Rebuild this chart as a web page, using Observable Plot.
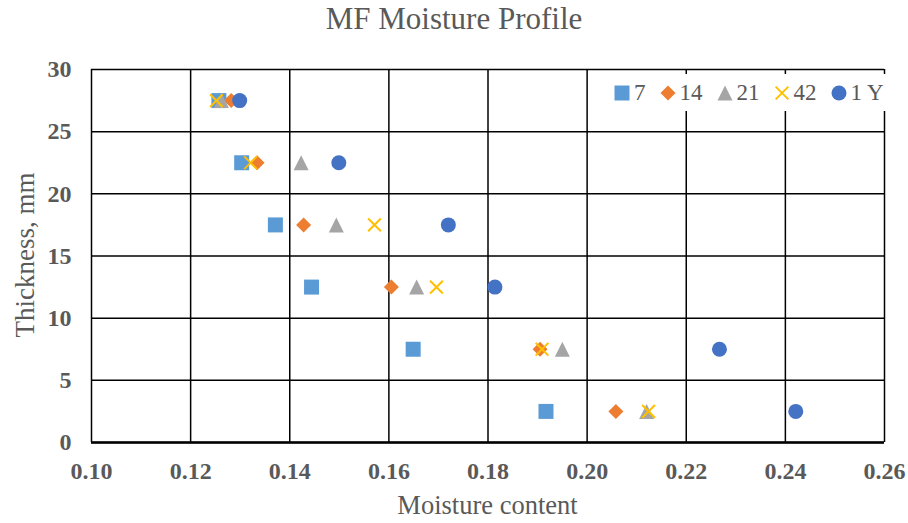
<!DOCTYPE html>
<html>
<head>
<meta charset="utf-8">
<script src="https://cdn.jsdelivr.net/npm/d3@7"></script>
<script src="https://cdn.jsdelivr.net/npm/@observablehq/plot@0.6"></script>
<style>
  html, body { margin: 0; padding: 0; background: #fff; }
  #chart { position: relative; width: 908px; height: 523px; overflow: hidden;
           font-family: "Liberation Serif", "Times New Roman", serif; color: #595959; }
  #title { position: absolute; left: 0; top: 0; width: 908px; text-align: center;
           font-size: 31px; line-height: 38px; }
  #plot { position: absolute; left: 0; top: 40px; }
  #xtitle { position: absolute; left: 91px; width: 793px; top: 490px; text-align: center;
            font-size: 26.5px; line-height: 30px; }
  #ytitle { position: absolute; left: 25px; top: 255px; transform: translate(-50%, -50%) rotate(-90deg);
            font-size: 27px; line-height: 30px; white-space: nowrap; }
  #legend { position: absolute; left: 605px; top: 74px; width: 284px; height: 37px; background: #fff;
            display: flex; align-items: center; padding-left: 9px; box-sizing: border-box;
            font-size: 23px; white-space: nowrap; }
  .item { display: flex; align-items: center; margin-right: 14px; flex: none; }
  .item svg { margin-right: 4px; }
</style>
</head>
<body>
<div id="chart">
  <div id="title">MF Moisture Profile</div>
  <div id="plot"></div>
  <div id="xtitle">Moisture content</div>
  <div id="ytitle">Thickness, mm</div>
  <div id="legend"></div>
</div>
<script>
// Sample ages (series) and sampling depths
const series = ["7", "14", "21", "42", "1 Y"];
const thickness = [27.5, 22.5, 17.5, 12.5, 7.5, 2.5];

// Moisture content at each depth, one array per age
const moisture7  = [0.1257, 0.1303, 0.1371, 0.1444, 0.1649, 0.1917];
const moisture14 = [0.1282, 0.1334, 0.1428, 0.1605, 0.1905, 0.2058];
const moisture21 = [0.1262, 0.1423, 0.1494, 0.1656, 0.1950, 0.2120];
const moisture42 = [0.1252, 0.1321, 0.1571, 0.1696, 0.1909, 0.2124];
const moisture1Y = [0.1299, 0.1499, 0.1720, 0.1814, 0.2267, 0.2421];

const xTicks = [0.10, 0.12, 0.14, 0.16, 0.18, 0.20, 0.22, 0.24, 0.26];
const yTicks = [0, 5, 10, 15, 20, 25, 30];

const colors = ["#5B9BD5", "#ED7D31", "#A5A5A5", "#FFC000", "#4472C4"];

// Marker shapes; half-size derived from the dot radius
const half = size => Math.sqrt(size / Math.PI);
const shapes = [
  {draw(c, s) { const h = half(s); c.rect(-h, -h, 2 * h, 2 * h); }},
  {draw(c, s) { const h = half(s); c.moveTo(0, -h); c.lineTo(h, 0); c.lineTo(0, h); c.lineTo(-h, 0); c.closePath(); }},
  {draw(c, s) { const h = half(s); c.moveTo(0, -h); c.lineTo(h, h); c.lineTo(-h, h); c.closePath(); }},
  {draw(c, s) { const k = half(s) * 0.85; c.moveTo(-k, -k); c.lineTo(k, k); c.moveTo(k, -k); c.lineTo(-k, k); }},
  {draw(c, s) { const h = half(s); c.moveTo(h, 0); c.arc(0, 0, h, 0, 2 * Math.PI); }}
];
const stroked = [false, false, false, true, false];

const values = [moisture7, moisture14, moisture21, moisture42, moisture1Y];
const rows = series.map((name, i) =>
  values[i].map((m, j) => ({series: name, moisture: m, thickness: thickness[j]})));

const dotMarks = rows.map((data, i) => Plot.dot(data, {
  x: "moisture", y: "thickness", r: 7.5, symbol: shapes[i],
  fill: stroked[i] ? "none" : colors[i],
  stroke: stroked[i] ? colors[i] : "none",
  strokeWidth: stroked[i] ? 2 : 0
}));

const plot = Plot.plot({
  width: 908,
  height: 483,
  marginTop: 29,
  marginBottom: 81,
  marginLeft: 91,
  marginRight: 24,
  style: {fontFamily: "'Liberation Serif', 'Times New Roman', serif", background: "transparent"},
  x: {domain: [0.10, 0.26]},
  y: {domain: [0, 30]},
  marks: [
    Plot.gridX(xTicks, {stroke: "#000", strokeOpacity: 1, strokeWidth: 1.5}),
    Plot.gridY(yTicks, {stroke: "#000", strokeOpacity: 1, strokeWidth: 1.5}),
    Plot.ruleY([0], {stroke: "#000", strokeWidth: 2.5}),
    Plot.axisX(xTicks, {tickSize: 0, tickPadding: 19, tickFormat: d3.format(".2f"),
      fontSize: 24, fontWeight: "bold", fill: "#595959", label: null}),
    Plot.axisY(yTicks, {tickSize: 0, tickPadding: 20,
      fontSize: 24, fontWeight: "bold", fill: "#595959", label: null}),
    ...dotMarks
  ]
});
document.getElementById("plot").appendChild(plot);

// Legend entries
const legend = d3.select("#legend");
series.forEach((name, i) => {
  const item = legend.append("div").attr("class", "item");
  const svg = item.append("svg").attr("width", 16).attr("height", 16)
    .attr("viewBox", "-8 -8 16 16");
  const p = d3.path();
  shapes[i].draw(p, Math.PI * 7.5 * 7.5);
  svg.append("path").attr("d", p.toString())
    .attr("fill", stroked[i] ? "none" : colors[i])
    .attr("stroke", stroked[i] ? colors[i] : "none")
    .attr("stroke-width", 2);
  item.append("span").text(name);
});
</script>
</body>
</html>
